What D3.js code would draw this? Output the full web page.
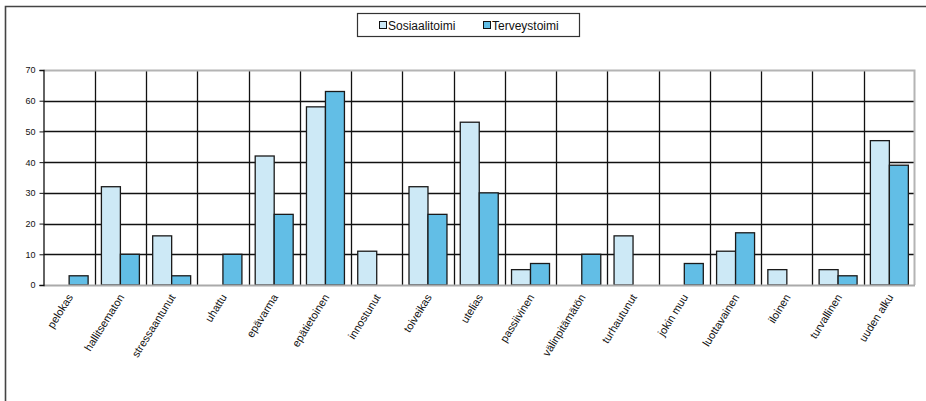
<!DOCTYPE html>
<html>
<head>
<meta charset="utf-8">
<script src="https://cdn.jsdelivr.net/npm/d3@7"></script>
<style>
  html, body { margin: 0; padding: 0; background: #fff; }
  svg { display: block; font-family: "Liberation Sans", Arial, sans-serif; }
</style>
</head>
<body>
<svg id="chart" width="926" height="401"></svg>
<script>
// Tunteet: vastaukset sosiaali- ja terveystoimessa
const categories = ["pelokas", "hallitsematon", "stressaantunut", "uhattu", "epävarma",
  "epätietoinen", "innostunut", "toiveikas", "utelias", "passiivinen", "välinpitämätön",
  "turhautunut", "jokin muu", "luottavainen", "iloinen", "turvallinen", "uuden alku"];
const seriesNames = ["Sosiaalitoimi", "Terveystoimi"];
const sosiaalitoimi = [0, 32, 16, 0, 42, 58, 11, 32, 53, 5, 0, 16, 0, 11, 5, 5, 47];
const terveystoimi  = [3, 10, 3, 10, 23, 63, 0, 23, 30, 7, 10, 0, 7, 17, 0, 3, 39];
const yTicks = [0, 10, 20, 30, 40, 50, 60, 70];

const colors = { "Sosiaalitoimi": "#cde9f6", "Terveystoimi": "#62bee6" };

const rows = categories.map((c, i) => ({
  cat: c,
  values: [
    { key: seriesNames[0], value: sosiaalitoimi[i] },
    { key: seriesNames[1], value: terveystoimi[i] }
  ]
}));

const svg = d3.select("#chart");
const plot = { left: 43.5, right: 915, top: 70, bottom: 285 };

// outer chart frame (runs past the right and bottom edges)
svg.append("path")
  .attr("d", `M5.5,410 V6.5 H940`)
  .attr("fill", "none").attr("stroke", "#444").attr("stroke-width", 1.6);

const x0 = d3.scaleBand().domain(categories).range([plot.left, plot.right]).padding(0);
const x1 = d3.scaleBand().domain(seriesNames).range([0, x0.bandwidth()])
  .paddingInner(0).paddingOuter(0.35);
const y = d3.scaleLinear().domain([0, 70]).range([plot.bottom, plot.top]);

// horizontal gridlines
svg.append("g").selectAll("line").data(yTicks.filter(t => t > 0 && t < 70)).join("line")
  .attr("x1", plot.left).attr("x2", plot.right)
  .attr("y1", d => Math.round(y(d)) + 0.5).attr("y2", d => Math.round(y(d)) + 0.5)
  .attr("stroke", "#111").attr("stroke-width", 1.3);

// vertical gridlines between categories
svg.append("g").selectAll("line").data(categories.slice(1)).join("line")
  .attr("x1", d => Math.round(x0(d)) + 0.5).attr("x2", d => Math.round(x0(d)) + 0.5)
  .attr("y1", plot.top).attr("y2", plot.bottom)
  .attr("stroke", "#111").attr("stroke-width", 1.3);

// plot area frame: top and right in grey
svg.append("path")
  .attr("d", `M${plot.left},${plot.top + 0.5} H${plot.right - 0.5} V${plot.bottom}`)
  .attr("fill", "none").attr("stroke", "#b4b4b4").attr("stroke-width", 2);

// bars
const groups = svg.append("g").selectAll("g").data(rows).join("g")
  .attr("transform", d => `translate(${x0(d.cat)},0)`);
groups.selectAll("rect").data(d => d.values.filter(v => v.value > 0)).join("rect")
  .attr("x", d => x1(d.key))
  .attr("y", d => y(d.value))
  .attr("width", x1.bandwidth())
  .attr("height", d => y(0) - y(d.value))
  .attr("fill", d => colors[d.key])
  .attr("stroke", "#1a1a1a").attr("stroke-width", 1.3);

// category axis line (grey)
svg.append("line")
  .attr("x1", plot.left).attr("x2", plot.right)
  .attr("y1", plot.bottom + 0.5).attr("y2", plot.bottom + 0.5)
  .attr("stroke", "#aaa").attr("stroke-width", 2);

// value axis
const yAxis = svg.append("g")
  .attr("transform", `translate(${plot.left},0)`)
  .call(d3.axisLeft(y).tickValues(yTicks).tickSize(4).tickPadding(4));
yAxis.select(".domain").attr("stroke", "#111").attr("stroke-width", 1.3);
yAxis.selectAll(".tick line").attr("stroke", "#111");
yAxis.selectAll(".tick text").attr("font-size", 9).attr("fill", "#111")
  .attr("font-family", "Liberation Sans, Arial, sans-serif");

// category labels, rotated
svg.append("g").selectAll("text").data(categories).join("text")
  .attr("transform", d => `translate(${x0(d) + x0.bandwidth() / 2 + 1},${plot.bottom + 10}) rotate(-58)`)
  .attr("text-anchor", "end")
  .attr("dy", "0.35em")
  .attr("font-size", 11).attr("fill", "#111")
  .text(d => d);

// legend
const legend = svg.append("g");
legend.append("rect")
  .attr("x", 357.5).attr("y", 13.5).attr("width", 222).attr("height", 23)
  .attr("fill", "#fff").attr("stroke", "#333").attr("stroke-width", 1.2);
const legendItems = [
  { key: seriesNames[0], x: 379 },
  { key: seriesNames[1], x: 483 }
];
const li = legend.selectAll("g.item").data(legendItems).join("g")
  .attr("class", "item")
  .attr("transform", d => `translate(${d.x},0)`);
li.append("rect")
  .attr("x", 0.5).attr("y", 21.5).attr("width", 7).attr("height", 7)
  .attr("fill", d => colors[d.key]).attr("stroke", "#111").attr("stroke-width", 1);
li.append("text")
  .attr("x", 9).attr("y", 29.5)
  .attr("font-size", 12).attr("fill", "#111")
  .text(d => d.key);
</script>
</body>
</html>
